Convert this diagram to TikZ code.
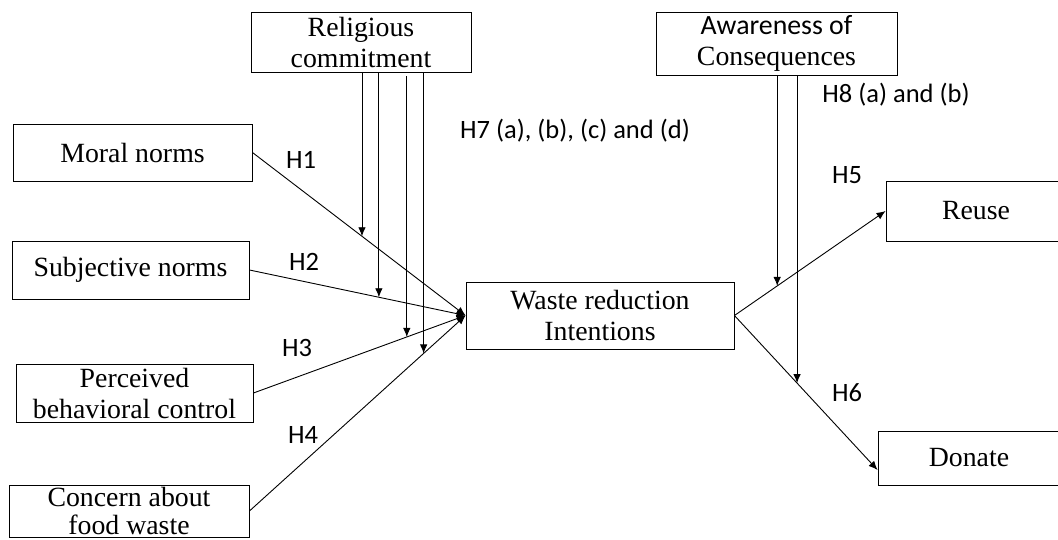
\documentclass[tikz,border=0pt]{standalone}
\usepackage{fontspec}
\setmainfont{Liberation Serif}
\newfontfamily\hfont{Carlito}
\usetikzlibrary{arrows.meta}

\begin{document}
\begin{tikzpicture}[x=1pt,y=-1pt,>={Latex[length=9pt,width=7.5pt]},line width=.9pt,
  box/.style={draw,align=center,inner sep=0pt,font=\fontsize{27.8}{31}\selectfont},
  hyp/.style={font=\hfont\fontsize{26.5}{30}\selectfont}]
\clip (0,0) rectangle (1058,540);
% constructs
\node[box,minimum width=220,minimum height=60] (rc) at (361,42){Religious\\commitment};
\node[box,minimum width=241,minimum height=63] (aoc) at (776.5,43.5){{\hfont Awareness of}\\Consequences};
\node[box,minimum width=239,minimum height=57] (mn) at (132.5,152.5){Moral norms};
\node[box,minimum width=237,minimum height=58] (sn) at (130.5,270){Subjective norms};
\node[box,minimum width=237,minimum height=58] (pbc) at (134.5,393){Perceived\\behavioral control};
\node[box,minimum width=240,minimum height=52,font=\fontsize{27.8}{28}\selectfont] (cfw) at (129,511){Concern about\\food waste};
\node[box,minimum width=268,minimum height=67] (wri) at (600,315.5){Waste reduction\\Intentions};
\node[box,minimum width=180,minimum height=60] (reuse) at (976,211){Reuse};
\node[box,minimum width=182,minimum height=54] (donate) at (969,458){Donate};
% direct paths
\draw[->] (mn.east) -- coordinate[pos=.514] (m1) (wri.west);
\draw[->] (sn.east) -- coordinate[pos=.599] (m2) (wri.west);
\draw[->] (pbc.east) -- coordinate[pos=.723] (m3) (wri.west);
\draw[->] (cfw.east) -- coordinate[pos=.806] (m4) (wri.west);
\draw[->] (wri.east) -- coordinate[pos=.283] (m5) (reuse.west);
\draw[->] (wri.east) -- coordinate[pos=.4375] (m6) ([yshift=-12]donate.west);
% moderators
\draw[->] (rc.south -| m1) -- (m1);\draw[->] (rc.south -| m2) -- (m2);
\draw[->] ([yshift=-4]rc.south -| m3) -- (m3);\draw[->] (rc.south -| m4) -- (m4);
\draw[->] (aoc.south -| m5) -- (m5);\draw[->] (aoc.south -| m6) -- (m6);
% hypotheses
\node[hyp] (h1) at (301,160){H1};\node[hyp] (h2) at (304,262){H2};
\node[hyp] (h3) at (297,348){H3};\node[hyp] (h4) at (303,435){H4};
\node[hyp] (h5) at (847,175){H5};\node[hyp] (h6) at (847,393){H6};
\node[hyp] (h7) at (575,131){H7 (a), (b), (c) and (d)};
\node[hyp] (h8) at (896,95){H8 (a) and (b)};
\end{tikzpicture}
\end{document}
